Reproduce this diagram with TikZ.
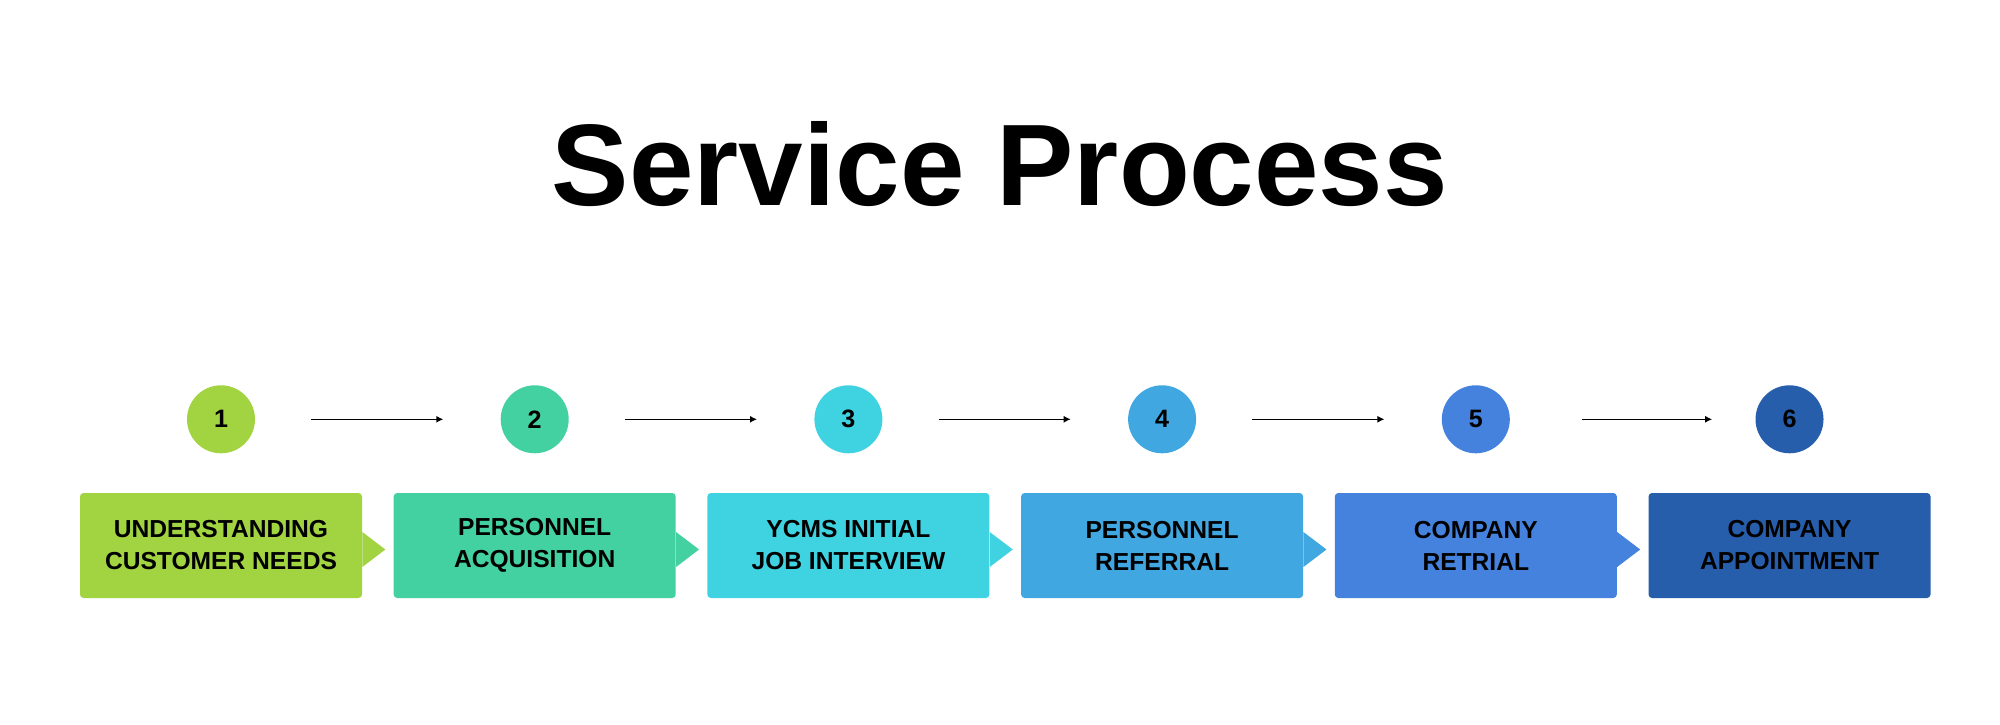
\documentclass[tikz,border=0pt]{standalone}
\usepackage{fontspec}
\setmainfont{Liberation Sans}
\usetikzlibrary{arrows.meta,positioning}
\definecolor{stepa}{HTML}{A2D341}
\definecolor{stepb}{HTML}{44D1A1}
\definecolor{stepc}{HTML}{3FD3E1}
\definecolor{stepd}{HTML}{41A7E0}
\definecolor{stepe}{HTML}{4482DD}
\definecolor{stepf}{HTML}{275EAC}
\begin{document}
\begin{tikzpicture}[
        stepbox/.style={draw=none, rounded corners=2pt, minimum width=5.64cm, minimum height=2.1cm,
                        align=center, font=\fontsize{14}{18.2}\selectfont\bfseries, inner sep=0pt},
        num/.style={circle, minimum size=1.36cm, inner sep=0pt, font=\fontsize{14.3}{16}\selectfont\bfseries},
        arr/.style={-{Latex[length=4pt,width=4pt]}, line width=0.8pt, shorten <=1.12cm, shorten >=1.14cm}]
        \useasboundingbox (0,0) rectangle (40,-14.5);
        \node[font=\fontsize{66}{70}\selectfont\bfseries, anchor=base] (title) at (20,-4.12) {Service Process};
        % steps
        \node[stepbox, fill=stepa] (b1) at (4.42,-10.91) {UNDERSTANDING\\CUSTOMER NEEDS};
        \node[stepbox, fill=stepb, right=0.62cm of b1] (b2) {PERSONNEL\\ACQUISITION};
        \node[stepbox, fill=stepc, right=0.62cm of b2] (b3) {YCMS INITIAL\\JOB INTERVIEW};
        \node[stepbox, fill=stepd, right=0.62cm of b3] (b4) {PERSONNEL\\REFERRAL};
        \node[stepbox, fill=stepe, right=0.62cm of b4] (b5) {COMPANY\\RETRIAL};
        \node[stepbox, fill=stepf, right=0.62cm of b5] (b6) {COMPANY\\APPOINTMENT};
        \foreach \i/\c in {1/stepa,2/stepb,3/stepc,4/stepd,5/stepe}
          \fill[\c] ([yshift=0.27cm]b\i.east) -- ([xshift=0.46cm,yshift=-0.08cm]b\i.east) -- ([yshift=-0.43cm]b\i.east) -- cycle;
        % numbers
        \foreach \i/\c in {1/stepa,2/stepb,3/stepc,4/stepd,5/stepe,6/stepf}
          \node[num, fill=\c, above=0.78cm of b\i] (n\i) {\i};
        \foreach \i/\j in {1/2,2/3,3/4,4/5}
          \draw[arr] (n\i) -- (n\j);
        \draw[arr, shorten <=1.44cm, shorten >=0.86cm] (n5) -- (n6);
      \end{tikzpicture}
\end{document}
